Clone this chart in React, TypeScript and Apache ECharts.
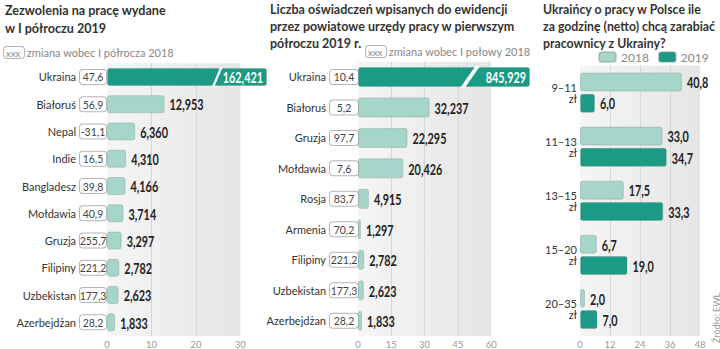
import React, { useEffect, useRef } from "react";
import * as echarts from "echarts";

// ---------- DATA ----------
const countries1 = ["Ukraina", "Białoruś", "Nepal", "Indie", "Bangladesz", "Mołdawia", "Gruzja", "Filipiny", "Uzbekistan", "Azerbejdżan"];
const permits = [162421, 12953, 6360, 4310, 4166, 3714, 3297, 2782, 2623, 1833];
const change1 = ["47,6", "56,9", "-31,1", "16,5", "39,8", "40,9", "255,7", "221,2", "177,3", "28,2"];

const countries2 = ["Ukraina", "Białoruś", "Gruzja", "Mołdawia", "Rosja", "Armenia", "Filipiny", "Uzbekistan", "Azerbejdżan"];
const declarations = [845929, 32237, 22295, 20426, 4915, 1297, 2782, 2623, 1833];
const change2 = ["10,4", "5,2", "97,7", "7,6", "83,7", "70,2", "221,2", "177,3", "28,2"];

const wageRanges = ["9–11 zł", "11–13 zł", "13–15 zł", "15–20 zł", "20–35 zł"];
const share2018 = [40.8, 33.0, 17.5, 6.7, 2.0];
const share2019 = [6.0, 34.7, 33.3, 19.0, 7.0];

const ticks1 = [0, 10000, 20000, 30000];
const ticks2 = [0, 15000, 30000, 45000, 60000];
const ticks3 = [0, 12, 24, 36, 48];

const title1 = ["Zezwolenia na pracę wydane", "w I półroczu 2019"];
const title2 = ["Liczba oświadczeń wpisanych do ewidencji", "przez powiatowe urzędy pracy w pierwszym", "półroczu 2019 r."];
const title3 = ["Ukraińcy o pracy w Polsce ile", "za godzinę (netto) chcą zarabiać", "pracownicy z Ukrainy?"];

// ---------- STYLE ----------
const DARK = "#1b9a85";
const LIGHT = "#a6d6ca";
const TXT = "#333";
const SANS = "Lato, 'Noto Sans', sans-serif";
const VALUE_FONT = `bold 15px ${SANS}`;

const AXIS_MAX1 = 36000;
const BREAK1 = 24800;
const AXIS_MAX2 = 77500;
const BREAK2 = 50500;

function measure(text: string, font: string) {
  const ctx = document.createElement("canvas").getContext("2d")!;
  ctx.font = font;
  return ctx.measureText(text).width;
}

const bgGradient = () =>
  new echarts.graphic.LinearGradient(0, 0, 1, 0, [
    { offset: 0, color: "#f5f5f5" },
    { offset: 1, color: "#e5e5e5" },
  ]);

const boxRich = (w: number) => ({
  fontSize: 10.5,
  color: "#444",
  fontFamily: SANS,
  backgroundColor: "#fff",
  borderColor: "#b5b5b5",
  borderWidth: 1,
  borderRadius: 3,
  padding: [2, 3, 1, 3],
  width: w,
  lineHeight: 11,
  align: "left",
});

const fmtInt = (v: number) => v.toLocaleString("en-US");
const fmtDec = (v: number) => v.toFixed(1).replace(".", ",");

const barItem = { borderColor: "rgba(120,140,135,0.35)", borderWidth: 1, borderRadius: 2 };

function background(bgMax: number, gridVals: number[]) {
  return {
    markArea: {
      silent: true,
      z: 0,
      itemStyle: { color: bgGradient() },
      data: [[{ xAxis: 0 }, { xAxis: bgMax }]],
    },
    markLine: {
      silent: true,
      z: 1,
      symbol: "none",
      label: { show: false },
      lineStyle: { color: "#d6d6d6", width: 1, type: "solid" },
      data: gridVals.filter((g) => g > 0 && g < bgMax).map((g) => ({ xAxis: g })),
    },
  };
}

function countryBars(idx: number, values: number[], cats: string[], axisMax: number, breakAt: number, bgMax: number, gridVals: number[], barWidth: number) {
  return {
    type: "bar",
    xAxisIndex: idx,
    yAxisIndex: idx,
    barWidth,
    data: values.map((v) => ({
      value: Math.min(v, axisMax),
      itemStyle: { color: v > axisMax ? DARK : LIGHT },
    })),
    itemStyle: barItem,
    ...background(bgMax, gridVals),
    markPoint: {
      silent: true,
      symbol: "path://M0,21 L3,21 L13,0 L10,0 Z",
      symbolSize: [idx === 0 ? 11 : 20, barWidth + 2],
      symbolKeepAspect: false,
      itemStyle: { color: "#fff" },
      label: { show: false },
      data: values.map((v, i) => (v > axisMax ? { coord: [breakAt, cats[i]] } : null)).filter(Boolean),
    },
  };
}

// value labels drawn through the axes (condensed by horizontal scaling)
function valueLabels(idx: number, values: number[], axisMax: number, fmt: (v: number) => string, scaleX: number, dy: number) {
  return {
    type: "custom",
    xAxisIndex: idx,
    yAxisIndex: idx,
    z: 5,
    silent: true,
    encode: { x: 0, y: 1 },
    data: values.map((v, i) => [Math.min(v, axisMax), i]),
    renderItem: (params: any, api: any) => {
      const v = values[params.dataIndex];
      const broken = v > axisMax;
      const pt = api.coord([api.value(0), api.value(1)]);
      return {
        type: "text",
        x: pt[0] + (broken ? -4 : 5),
        y: pt[1] + dy + 0.5,
        scaleX,
        style: {
          text: fmt(v),
          font: VALUE_FONT,
          fill: broken ? "#fff" : "#222",
          align: broken ? "right" : "left",
          verticalAlign: "middle",
        },
      };
    },
  };
}

// title sized so that one reference line takes the width it has in the original
function titleText(lines: string[], x: number, targetLine: number, targetWidth: number, lineHeight: number) {
  const base = measure(lines[targetLine], `bold 14px ${SANS}`);
  const fs = Math.min(15, Math.max(11, (14 * targetWidth) / base));
  return {
    type: "text",
    x,
    y: 1,
    style: {
      text: lines.join("\n"),
      font: `bold ${fs.toFixed(2)}px ${SANS}`,
      lineHeight,
      fill: TXT,
      align: "left",
      verticalAlign: "top",
    },
  };
}

export default function App() {
  const ref = useRef<HTMLDivElement>(null);

  useEffect(() => {
    const chart = echarts.init(ref.current!, null, { renderer: "svg" });
    const valScale = 34 / measure("12,953", VALUE_FONT);

    const catAxisBase = {
      type: "category",
      inverse: true,
      axisLine: { show: false },
      axisTick: { show: false },
    };
    const valAxisBase = {
      type: "value",
      min: 0,
      axisLine: { show: false },
      axisTick: { show: false },
      splitLine: { show: false },
    };
    const tickLabel = { color: "#999", fontSize: 9.5, fontFamily: SANS, margin: 3, showMaxLabel: true };

    const option: any = {
      animation: false,
      backgroundColor: "#fff",
      legend: {
        data: ["2018", "2019"],
        left: 598,
        top: 51,
        padding: 0,
        itemWidth: 17,
        itemHeight: 10,
        itemGap: 9,
        icon: "roundRect",
        textStyle: { color: "#888", fontSize: 12, fontFamily: SANS },
      },
      grid: [
        { left: 107, top: 63.3, width: 160, height: 273.4 },
        { left: 358, top: 61.7, width: 172, height: 275.6 },
        { left: 580, top: 65.6, width: 120, height: 273.8 },
      ],
      xAxis: [
        {
          ...valAxisBase,
          gridIndex: 0,
          max: AXIS_MAX1,
          interval: 10000,
          axisLabel: { ...tickLabel, formatter: (v: number) => (ticks1.includes(v) ? String(v / 1000) : "") },
        },
        {
          ...valAxisBase,
          gridIndex: 1,
          max: AXIS_MAX2,
          interval: 15000,
          axisLabel: { ...tickLabel, formatter: (v: number) => (ticks2.includes(v) ? String(v / 1000) : "") },
        },
        {
          ...valAxisBase,
          gridIndex: 2,
          max: 48,
          interval: 12,
          axisLabel: { ...tickLabel, formatter: (v: number) => (ticks3.includes(v) ? String(v) : "") },
        },
      ],
      yAxis: [
        {
          ...catAxisBase,
          gridIndex: 0,
          data: countries1,
          axisLabel: {
            margin: 1,
            formatter: (v: string, i: number) => `{n|${v}}{b|${change1[i]}}`,
            rich: {
              n: { fontSize: 11, color: TXT, fontFamily: SANS, padding: [0, 4, 0, 0] },
              b: boxRich(20),
            },
          },
        },
        {
          ...catAxisBase,
          gridIndex: 1,
          data: countries2,
          axisLabel: {
            margin: 0,
            formatter: (v: string, i: number) => `{n|${v}}{b|${change2[i]}}`,
            rich: {
              n: { fontSize: 11, color: TXT, fontFamily: SANS, padding: [0, 4, 0, 0] },
              b: boxRich(22),
            },
          },
        },
        {
          ...catAxisBase,
          gridIndex: 2,
          data: wageRanges,
          axisLabel: {
            margin: 3,
            fontSize: 11,
            lineHeight: 11,
            color: TXT,
            fontFamily: SANS,
            align: "right",
            formatter: (v: string) => v.replace(" ", "\n"),
          },
        },
      ],
      series: [
        countryBars(0, permits, countries1, AXIS_MAX1, BREAK1, 30000, ticks1, 18),
        countryBars(1, declarations, countries2, AXIS_MAX2, BREAK2, 60000, ticks2, 20),
        {
          name: "2018",
          type: "bar",
          xAxisIndex: 2,
          yAxisIndex: 2,
          barWidth: 19,
          barGap: "12%",
          data: share2018,
          itemStyle: { color: LIGHT, ...barItem },
          ...background(48, ticks3),
        },
        {
          name: "2019",
          type: "bar",
          xAxisIndex: 2,
          yAxisIndex: 2,
          barWidth: 19,
          barGap: "12%",
          data: share2019,
          itemStyle: { color: DARK, ...barItem },
        },
        valueLabels(0, permits, AXIS_MAX1, fmtInt, valScale, 0),
        valueLabels(1, declarations, AXIS_MAX2, fmtInt, valScale, 0),
        valueLabels(2, share2018, 48, fmtDec, valScale, -10.6),
        valueLabels(2, share2019, 48, fmtDec, valScale, 10.6),
      ],
      graphic: [
        titleText(title1, 5, 0, 161, 18),
        titleText(title2, 270, 0, 238, 17),
        titleText(title3, 543, 1, 172, 17),
        {
          type: "text",
          left: 3,
          top: 46,
          style: {
            text: "{b|xxx} zmiana wobec I półrocza 2018",
            fill: "#888",
            font: `11px ${SANS}`,
            rich: { b: { ...boxRich(16), fontSize: 9.5, color: "#555", padding: [1, 2, 0, 2] } },
          },
        },
        {
          type: "text",
          left: 365,
          top: 45,
          style: {
            text: "{b|xxx} zmiana wobec I połowy 2018",
            fill: "#888",
            font: `11px ${SANS}`,
            rich: { b: { ...boxRich(16), fontSize: 9.5, color: "#555", padding: [1, 2, 0, 2] } },
          },
        },
        {
          type: "text",
          x: 716,
          y: 343,
          rotation: Math.PI / 2,
          style: {
            text: "Źródło: EWL",
            fill: "#999",
            font: `9px ${SANS}`,
            align: "left",
            verticalAlign: "middle",
          },
        },
      ],
    };

    chart.setOption(option);
    return () => chart.dispose();
  }, []);

  return (
    <div
      ref={ref}
      style={{ position: "fixed", left: 0, top: 0, width: 720, height: 349, background: "#fff" }}
    />
  );
}
